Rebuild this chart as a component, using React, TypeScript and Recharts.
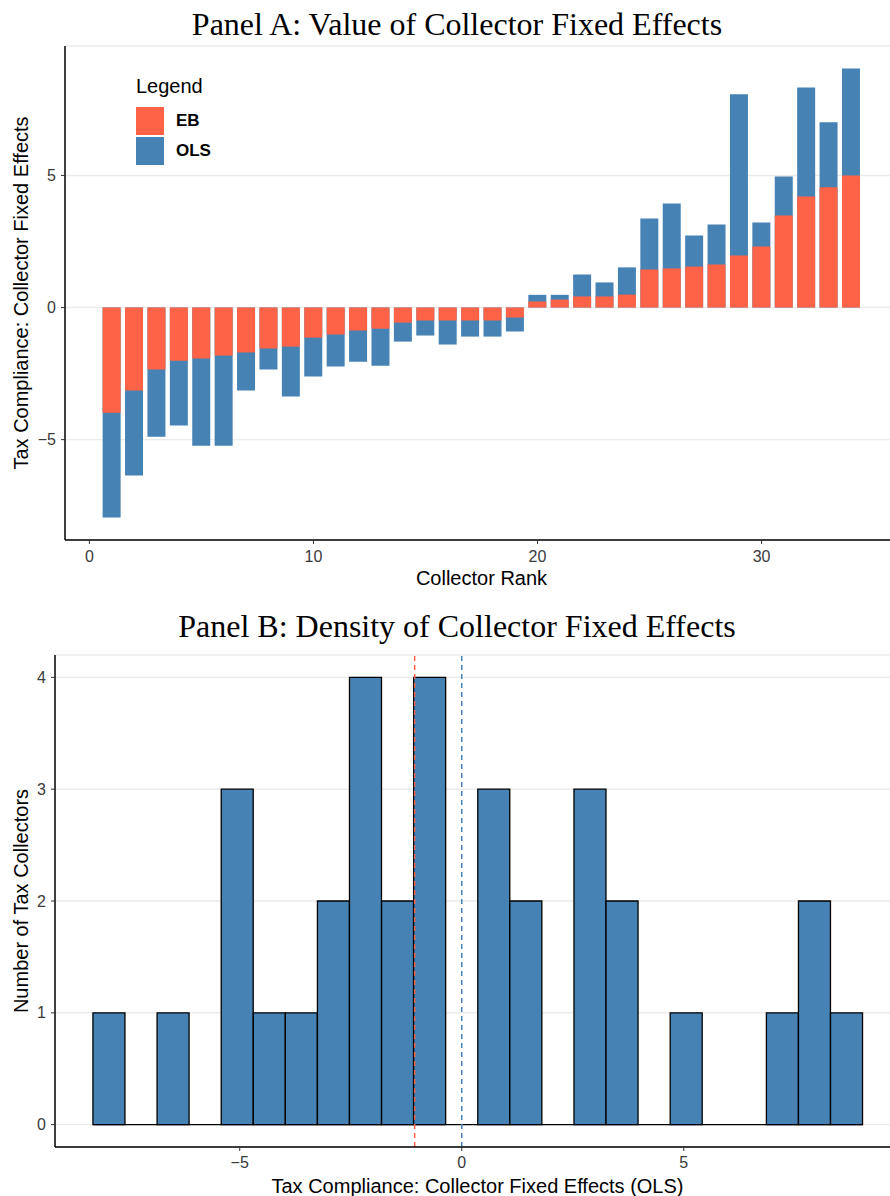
import { BarChart, Bar, XAxis, YAxis, CartesianGrid, ReferenceLine } from "recharts";

// Panel A: collector fixed effects by rank
const ranks = [
  1, 2, 3, 4, 5, 6, 7, 8, 9, 10, 11, 12, 13, 14, 15, 16, 17,
  18, 19, 20, 21, 22, 23, 24, 25, 26, 27, 28, 29, 30, 31, 32, 33, 34,
];
const ebEffects = [
  -3.98, -3.14, -2.35, -2.01, -1.93, -1.82, -1.7, -1.55, -1.48, -1.14, -1.02, -0.87,
  -0.8, -0.57, -0.49, -0.49, -0.49, -0.49, -0.38, 0.23, 0.3, 0.42, 0.42, 0.49,
  1.44, 1.48, 1.55, 1.63, 1.97, 2.31, 3.48, 4.2, 4.55, 5.0,
];
const olsEffects = [
  -7.95, -6.36, -4.89, -4.47, -5.23, -5.23, -3.14, -2.35, -3.37, -2.61, -2.23, -2.05,
  -2.2, -1.29, -1.06, -1.4, -1.1, -1.1, -0.91, 0.48, 0.48, 1.25, 0.95, 1.52,
  3.37, 3.94, 2.73, 3.14, 8.07, 3.22, 4.96, 8.33, 7.01, 9.05,
];

// Panel B: histogram of OLS effects
const binCenters = [
  -7.9444, -7.2222, -6.5, -5.7778, -5.0556, -4.3333, -3.6111, -2.8889, -2.1667, -1.4444,
  -0.7222, 0, 0.7222, 1.4444, 2.1667, 2.8889, 3.6111, 4.3333, 5.0556, 5.7778, 6.5,
  7.2222, 7.9444, 8.6667,
];
const binCounts = [1, 0, 1, 0, 3, 1, 1, 2, 4, 2, 4, 0, 3, 2, 0, 3, 2, 0, 1, 0, 0, 1, 2, 1];
const binRange = [-8.3056, 9.0278];
const ebMean = -1.06;
const olsMean = 0;

const rankTicks = [0, 10, 20, 30];
const effectTicks = [-5, 0, 5];
const olsTicks = [-5, 0, 5];
const countTicks = [0, 1, 2, 3, 4];

const EB_COLOR = "#FF6347";
const OLS_COLOR = "#4682B4";
const SANS = '"Liberation Sans", Arial, sans-serif';
const SERIF = '"Liberation Serif", "Times New Roman", serif';

const rankData = ranks.map((rank, i) => ({ rank, eb: ebEffects[i], ols: olsEffects[i] }));
const histData = binCenters.map((center, i) => ({ center, count: binCounts[i] }));

const fmtMinus = (v: number) => String(v).replace("-", "\u2212");

const tickStyle = { fill: "#3a3a3a", fontSize: 16, fontFamily: SANS };
const axisLine = { stroke: "#000", strokeWidth: 1.5 };
const tickLine = { stroke: "#333", strokeWidth: 1 };
const labelStyle = { fill: "#000", fontSize: 20, fontFamily: SANS };

function PanelTitle({ text, top }: { text: string; top: number }) {
  return (
    <div
      style={{
        position: "absolute",
        top,
        left: 0,
        width: 914,
        textAlign: "center",
        fontFamily: SERIF,
        fontSize: 32,
        lineHeight: "32px",
        color: "#000",
        whiteSpace: "nowrap",
      }}
    >
      {text}
    </div>
  );
}

function FixedEffectsLegend() {
  const items = [
    { name: "EB", color: EB_COLOR },
    { name: "OLS", color: OLS_COLOR },
  ];
  return (
    <div style={{ position: "absolute", top: 76, left: 136, fontFamily: SANS }}>
      <div style={{ fontSize: 20, lineHeight: "20px", marginBottom: 11 }}>Legend</div>
      {items.map((it) => (
        <div key={it.name} style={{ display: "flex", alignItems: "center", height: 28, marginBottom: 2 }}>
          <div style={{ width: 28, height: 28, background: it.color }} />
          <span style={{ marginLeft: 12, fontSize: 17, fontWeight: "bold" }}>{it.name}</span>
        </div>
      ))}
    </div>
  );
}

export default function App() {
  return (
    <div
      style={{
        position: "absolute",
        left: 0,
        top: 0,
        width: 890,
        height: 1196,
        overflow: "hidden",
        background: "#fff",
      }}
    >
      <PanelTitle text="Panel A: Value of Collector Fixed Effects" top={8} />
      <div style={{ position: "absolute", top: 0, left: 0 }}>
        <BarChart
          width={898}
          height={600}
          data={rankData}
          margin={{ top: 46, right: 0, bottom: 0, left: 0 }}
          barGap={-18}
        >
          <CartesianGrid vertical={false} stroke="#ebebeb" strokeWidth={1.4} />
          <XAxis
            dataKey="rank"
            type="number"
            domain={[-1.09, 36.09]}
            ticks={rankTicks}
            height={60}
            axisLine={axisLine}
            tickLine={tickLine}
            tickSize={4}
            tickMargin={7}
            tick={tickStyle}
            label={{ value: "Collector Rank", position: "insideBottom", offset: 15, ...labelStyle }}
          />
          <YAxis
            type="number"
            domain={[-8.8, 9.9]}
            ticks={effectTicks}
            width={65}
            axisLine={axisLine}
            tickLine={tickLine}
            tickSize={4}
            tickMargin={5}
            tick={tickStyle}
            tickFormatter={fmtMinus}
            label={{
              value: "Tax Compliance: Collector Fixed Effects",
              angle: -90,
              position: "center",
              dx: -12,
              ...labelStyle,
            }}
          />
          <Bar dataKey="ols" fill={OLS_COLOR} barSize={18} isAnimationActive={false} />
          <Bar dataKey="eb" fill={EB_COLOR} barSize={18} isAnimationActive={false} />
        </BarChart>
      </div>
      <FixedEffectsLegend />

      <PanelTitle text="Panel B: Density of Collector Fixed Effects" top={610} />
      <div style={{ position: "absolute", top: 600, left: 0 }}>
        <BarChart
          width={900}
          height={596}
          data={histData}
          margin={{ top: 55, right: 0, bottom: 0, left: 0 }}
        >
          <CartesianGrid vertical={false} stroke="#ebebeb" strokeWidth={1.4} />
          <XAxis
            dataKey="center"
            type="number"
            domain={[-9.16, 9.87]}
            ticks={olsTicks}
            height={49}
            axisLine={axisLine}
            tickLine={tickLine}
            tickSize={4}
            tickMargin={6}
            tick={tickStyle}
            tickFormatter={fmtMinus}
            label={{
              value: "Tax Compliance: Collector Fixed Effects (OLS)",
              position: "insideBottom",
              offset: 3,
              ...labelStyle,
            }}
          />
          <YAxis
            type="number"
            domain={[-0.2, 4.2]}
            ticks={countTicks}
            width={55}
            axisLine={axisLine}
            tickLine={tickLine}
            tickSize={4}
            tickMargin={5}
            tick={tickStyle}
            label={{
              value: "Number of Tax Collectors",
              angle: -90,
              position: "center",
              dx: -7,
              ...labelStyle,
            }}
          />
          <ReferenceLine
            segment={[
              { x: binRange[0], y: 0 },
              { x: binRange[1], y: 0 },
            ]}
            stroke="#000"
            strokeWidth={1.3}
          />
          <Bar
            dataKey="count"
            fill={OLS_COLOR}
            stroke="#000"
            strokeWidth={1.3}
            barSize={32}
            isAnimationActive={false}
          />
          <ReferenceLine x={ebMean} stroke={EB_COLOR} strokeWidth={1.5} strokeDasharray="5 4" />
          <ReferenceLine x={olsMean} stroke={OLS_COLOR} strokeWidth={1.5} strokeDasharray="5 4" />
        </BarChart>
      </div>
    </div>
  );
}
